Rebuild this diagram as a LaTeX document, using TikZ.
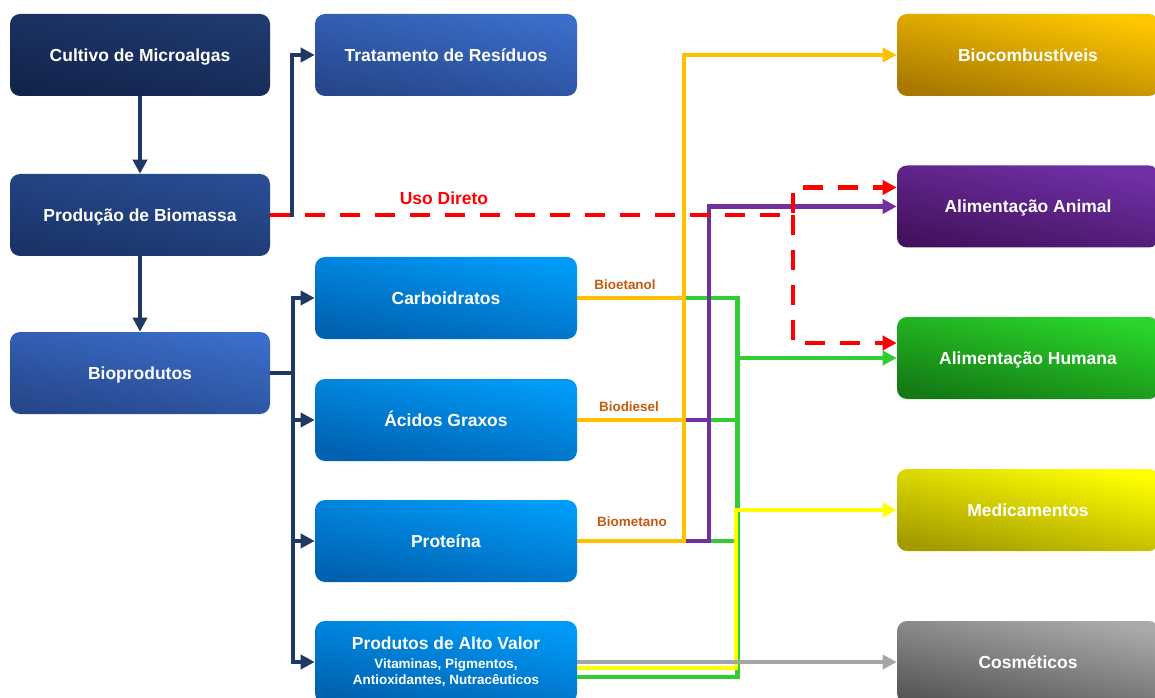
\documentclass[tikz,border=0pt]{standalone}
\usepackage{fontspec}
\setmainfont{Liberation Sans}
\usetikzlibrary{arrows.meta,calc}
\definecolor{navyc}{HTML}{1F3864}
\definecolor{orangec}{HTML}{FFC000}
\definecolor{purplec}{HTML}{7030A0}
\definecolor{greenc}{HTML}{33CC33}
\definecolor{yellowc}{HTML}{FFFF00}
\definecolor{grayc}{HTML}{A6A6A6}
\definecolor{redc}{HTML}{FF0000}
\definecolor{lblc}{HTML}{C55A11}
\definecolor{cultT}{HTML}{1F3A6E}
\definecolor{cultB}{HTML}{13244C}
\definecolor{prodT}{HTML}{284D94}
\definecolor{prodB}{HTML}{1A3367}
\definecolor{bioT}{HTML}{3B6DCA}
\definecolor{bioB}{HTML}{26478B}
\definecolor{blueT}{HTML}{009BF8}
\definecolor{blueB}{HTML}{0061AF}
\definecolor{fuelT}{HTML}{FFC800}
\definecolor{fuelB}{HTML}{A87800}
\definecolor{animT}{HTML}{7230A8}
\definecolor{animB}{HTML}{43125D}
\definecolor{humT}{HTML}{2AD62A}
\definecolor{humB}{HTML}{147A14}
\definecolor{medT}{HTML}{FFFF00}
\definecolor{medB}{HTML}{A39B00}
\definecolor{cosT}{HTML}{AAAAAA}
\definecolor{cosB}{HTML}{585858}
\begin{document}
\begin{tikzpicture}[x=0.75pt,y=-0.75pt,
  >={Triangle[length=10.5pt,width=10.5pt]},
  boxbase/.style={rounded corners=7.5pt, minimum height=61.5pt, inner sep=0pt, text=white,
    font=\bfseries\fontsize{13.1}{15.5}\selectfont, align=center, minimum width=196pt},
  box/.style={boxbase, text height=9.4pt, text depth=0pt},
  lbox/.style={box, minimum width=195pt},
  mbox/.style={box, minimum width=196.5pt},
  grad/.style 2 args={top color=#1, bottom color=#2, shading angle=-12},
  nav/.style={draw=navyc, line width=3pt},
  cl/.style={line width=3.5pt},
  reddash/.style={draw=redc, line width=3.2pt, dash pattern=on 15pt off 11.25pt},
  lbl/.style={text=lblc, font=\bfseries\fontsize{10.1}{12}\selectfont, inner sep=0pt},
  usolbl/.style={text=redc, font=\bfseries\fontsize{13.1}{15}\selectfont, inner sep=0pt}
]
\useasboundingbox (0,0) rectangle (1155,698);

% boxes
\node[lbox, grad={cultT}{cultB}] (cult) at (140,55) {Cultivo de Microalgas};
\node[lbox, grad={prodT}{prodB}] (prod) at (140,215) {Produção de Biomassa};
\node[lbox, grad={bioT}{bioB}] (bio) at (140,373) {Bioprodutos};
\node[mbox, grad={bioT}{bioB}] (trat) at (446,55) {Tratamento de Resíduos};
\node[mbox, grad={blueT}{blueB}] (carb) at (446,298) {Carboidratos};
\node[mbox, grad={blueT}{blueB}] (acid) at (446,420) {Ácidos Graxos};
\node[mbox, grad={blueT}{blueB}] (prot) at (446,541) {Proteína};
\node[boxbase, minimum width=196.5pt, grad={blueT}{blueB}] (alto) at (446,662) {\raisebox{-1.5pt}{Produtos de Alto Valor}\\[0pt]{\fontsize{10.1}{10.5}\selectfont Vitaminas, Pigmentos,}\\[-3.5pt]{\fontsize{10.1}{10.5}\selectfont Antioxidantes, Nutracêuticos}};
\node[mbox, grad={fuelT}{fuelB}] (biocomb) at (1028,55) {Biocombustíveis};
\node[mbox, grad={animT}{animB}] (animal) at (1028,206.5) {Alimentação Animal};
\node[mbox, grad={humT}{humB}] (human) at (1028,358) {Alimentação Humana};
\node[mbox, grad={medT}{medB}] (medic) at (1028,510) {Medicamentos};
\node[mbox, grad={cosT}{cosB}] (cosm) at (1028,662) {Cosméticos};

% labels
\node[lbl] (bioet) at (625,285) {Bioetanol};
\node[lbl] (biodi) at (629,407) {Biodiesel};
\node[lbl] (biome) at (632,522) {Biometano};
\node[usolbl] (uso) at (444,198) {Uso Direto};

% bus coordinates
\coordinate (ybus) at (684,0);
\coordinate (pbus) at (709,0);
\coordinate (gbus) at (737.5,0);
\coordinate (mbus) at (736,0);
\coordinate (rbus) at (793,0);
\coordinate (altoY) at ($(alto.east)+(0,6)$);
\coordinate (altoG) at ($(alto.east)+(0,15)$);
\coordinate (bj) at ($(bio.east)+(23,0)$);

% navy connectors
\draw[nav,->] (cult.south) -- (prod.north);
\draw[nav,->] (prod.south) -- (bio.north);
\draw[nav,->] (prod.east) -- ++(22,0) |- (trat.west);
\draw[nav] (bio.east) -- (bj);
\draw[nav,->] (bj) |- (carb.west);
\draw[nav,->] (bj) |- (acid.west);
\draw[nav,->] (bj) |- (prot.west);
\draw[nav,->] (bj) |- (alto.west);

% green
\draw[cl, draw=greenc] (altoG) -| (carb.east -| gbus) -- (carb.east -| ybus);
\draw[cl, draw=greenc,->] (human.west -| gbus) -- (human.west);
\draw[cl, draw=greenc] (acid.east -| pbus) -- (acid.east -| gbus);
\draw[cl, draw=greenc] (prot.east -| pbus) -- (prot.east -| gbus);

% yellow (medicamentos)
\draw[cl, draw=yellowc,->] (altoY) -| (medic.west -| mbus) -- (medic.west);

% purple
\draw[cl, draw=purplec,->] (prot.east -| ybus) -| (animal.west -| pbus) -- (animal.west);
\draw[cl, draw=purplec] (acid.east -| ybus) -- (acid.east -| pbus);

% orange
\draw[cl, draw=orangec,->] (prot.east) -| (biocomb.west -| ybus) -- (biocomb.west);
\draw[cl, draw=orangec] (carb.east) -- (carb.east -| ybus);
\draw[cl, draw=orangec] (acid.east) -- (acid.east -| ybus);

% red dashed
\draw[reddash,->] (prod.east) -- (prod.east -| rbus) |- ($(animal.west)+(0,-19)$);
\draw[reddash,->] (prod.east -| rbus) |- ($(human.west)+(0,-15)$);

% gray
\draw[cl, draw=grayc,->] (alto.east) -- (cosm.west);
\end{tikzpicture}
\end{document}
